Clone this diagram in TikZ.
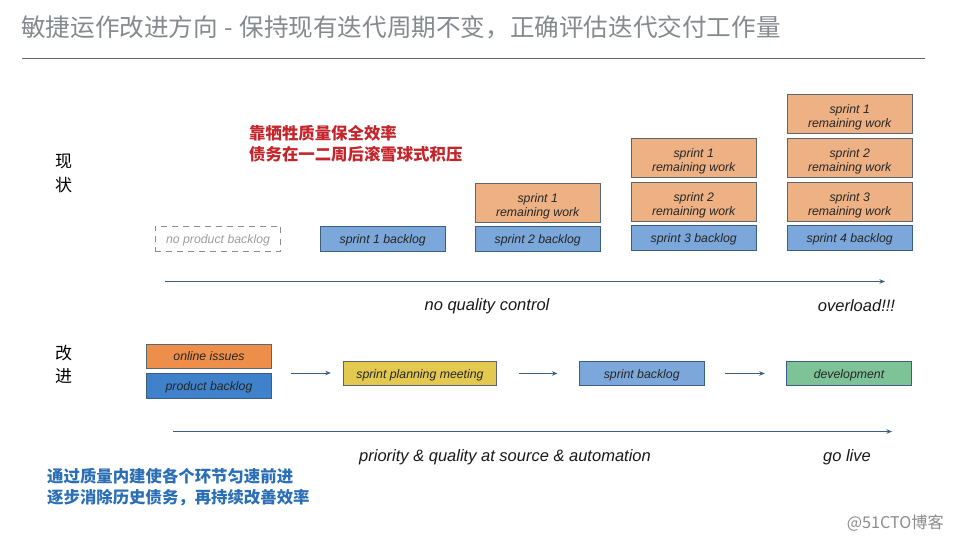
\documentclass[tikz,border=0pt]{standalone}
\usepackage{fontspec}
\setmainfont{Liberation Sans}
\newfontfamily\cjk{Noto Sans CJK SC}
\definecolor{edgeblue}{HTML}{3A5F80}
\definecolor{edgegrey}{HTML}{5A6672}
\definecolor{remfill}{HTML}{EDB184}
\definecolor{backfill}{HTML}{7BA7DA}
\definecolor{onlinefill}{HTML}{EE8E4B}
\definecolor{prodfill}{HTML}{3F82CB}
\definecolor{planfill}{HTML}{E3C950}
\definecolor{devfill}{HTML}{7DC397}
\definecolor{titlegrey}{HTML}{858A8E}
\definecolor{redtext}{HTML}{C4252B}
\definecolor{bluetext}{HTML}{2A6FB5}
\usetikzlibrary{arrows.meta}
\newcommand{\fwcomma}{\char"FF0C\relax}
\tikzset{
  x=1pt,y=-1pt,
  boxbase/.style={draw=edgeblue,line width=0.9pt,inner sep=0pt,align=center,text=black!85,
    font=\fontsize{12.3}{14}\selectfont\itshape,minimum width=125.5pt},
  oneline/.style={execute at begin node={\rule[-3pt]{0pt}{15.4pt}}},
  backlogbox/.style={boxbase,oneline,fill=backfill,minimum height=25pt},
  rembox/.style={boxbase,draw=edgegrey,fill=remfill,minimum height=39pt,text height=30pt,text depth=2.6pt},
  nobox/.style={boxbase,oneline,draw=black!45,dashed,dash pattern=on 6pt off 5pt,line width=0.6pt,text=black!38,minimum height=25pt},
  flowbox/.style={boxbase,oneline,minimum height=24pt},
  flow/.style={draw=edgeblue,line width=1pt,-{Stealth[length=5.5pt,width=4.5pt]}},
  phase/.style={font=\cjk\fontsize{17}{23.5}\selectfont,align=center,inner sep=0pt,text=black},
  note/.style={font=\cjk\bfseries\fontsize{16.4}{21}\selectfont,align=left,inner sep=0pt,anchor=west},
  axislabel/.style={font=\fontsize{16.5}{20}\selectfont\itshape,inner sep=0pt,text=black!90},
}
\begin{document}
\begin{tikzpicture}
\useasboundingbox (0,0) rectangle (953,540);
\fill[white] (0,0) rectangle (953,540);
% title
\node[anchor=west,inner sep=0pt,text=titlegrey,font=\cjk\fontsize{24.6}{28}\selectfont] (title) at (21,27) {敏捷运作改进方向\hspace{6.5pt}-\hspace{6.5pt}保持现有迭代周期不变\fwcomma 正确评估迭代交付工作量};
\coordinate (ruleL) at (22,58.7);
\coordinate (ruleR) at (925,58.7);
\draw[black!60,line width=1pt] (ruleL) -- (ruleR);
% phase labels
\node[phase] (now) at (63.5,173.5) {现\\状};
\node[phase] (better) at (63.5,364.5) {改\\进};
% notes
\node[note,text=redtext] (rednote) at (249,143.5) {靠牺牲质量保全效率\\债务在一二周后滚雪球式积压};
\node[note,text=bluetext] (bluenote) at (47,486.7) {通过质量内建使各个环节匀速前进\\逐步消除历史债务\fwcomma 再持续改善效率};
% current state
\node[nobox] (nopb) at (218,238.5) {no product backlog};
\node[backlogbox] (b1) at (382.7,238.5) {sprint 1 backlog};
\node[backlogbox] (b2) at (537.7,239) {sprint 2 backlog};
\node[rembox] (b2r1) at (537.7,203) {sprint 1\\remaining work};
\node[backlogbox] (b3) at (693.7,238) {sprint 3 backlog};
\node[rembox] (b3r2) at (693.7,202) {sprint 2\\remaining work};
\node[rembox] (b3r1) at (693.7,158) {sprint 1\\remaining work};
\node[backlogbox] (b4) at (849.7,238) {sprint 4 backlog};
\node[rembox] (b4r3) at (849.7,202) {sprint 3\\remaining work};
\node[rembox] (b4r2) at (849.7,158) {sprint 2\\remaining work};
\node[rembox] (b4r1) at (849.7,114) {sprint 1\\remaining work};
% top axis
\coordinate (axisAs) at (165,281.5);
\coordinate (axisAe) at (885,281.5);
\draw[flow] (axisAs) -- (axisAe);
\node[axislabel] (noqc) at (487,306) {no quality control};
\node[axislabel] (over) at (856.5,306) {overload!!!};
% improved state
\node[flowbox,draw=edgegrey,fill=onlinefill] (online) at (209,356) {online issues};
\node[flowbox,fill=prodfill,minimum height=25.5pt] (product) at (209,385.7) {product backlog};
\node[flowbox,draw=edgegrey,fill=planfill,minimum width=153.5pt] (plan) at (420,373.5) {sprint planning meeting};
\node[flowbox,fill=backfill] (sb) at (641.7,373.5) {sprint backlog};
\node[flowbox,fill=devfill] (dev) at (849,373.5) {development};
\coordinate (src) at (272,373);
\draw[flow,shorten <=19pt,shorten >=12pt] (src) -- (src -| plan.west);
\draw[flow,shorten <=21.5pt,shorten >=21pt] (plan.east) -- (sb.west);
\draw[flow,shorten <=20.5pt,shorten >=21pt] (sb.east) -- (dev.west);
% bottom axis
\coordinate (axisBs) at (173,431.5);
\coordinate (axisBe) at (892,431.5);
\draw[flow] (axisBs) -- (axisBe);
\node[axislabel] (prio) at (505,457) {priority \& quality at source \& automation};
\node[axislabel] (golive) at (847,457) {go live};
% watermark
\node[anchor=east,inner sep=0pt,text=black!45,font=\cjk\fontsize{16.2}{18}\selectfont] (mark) at (944,523) {@51CTO博客};
\end{tikzpicture}
\end{document}
